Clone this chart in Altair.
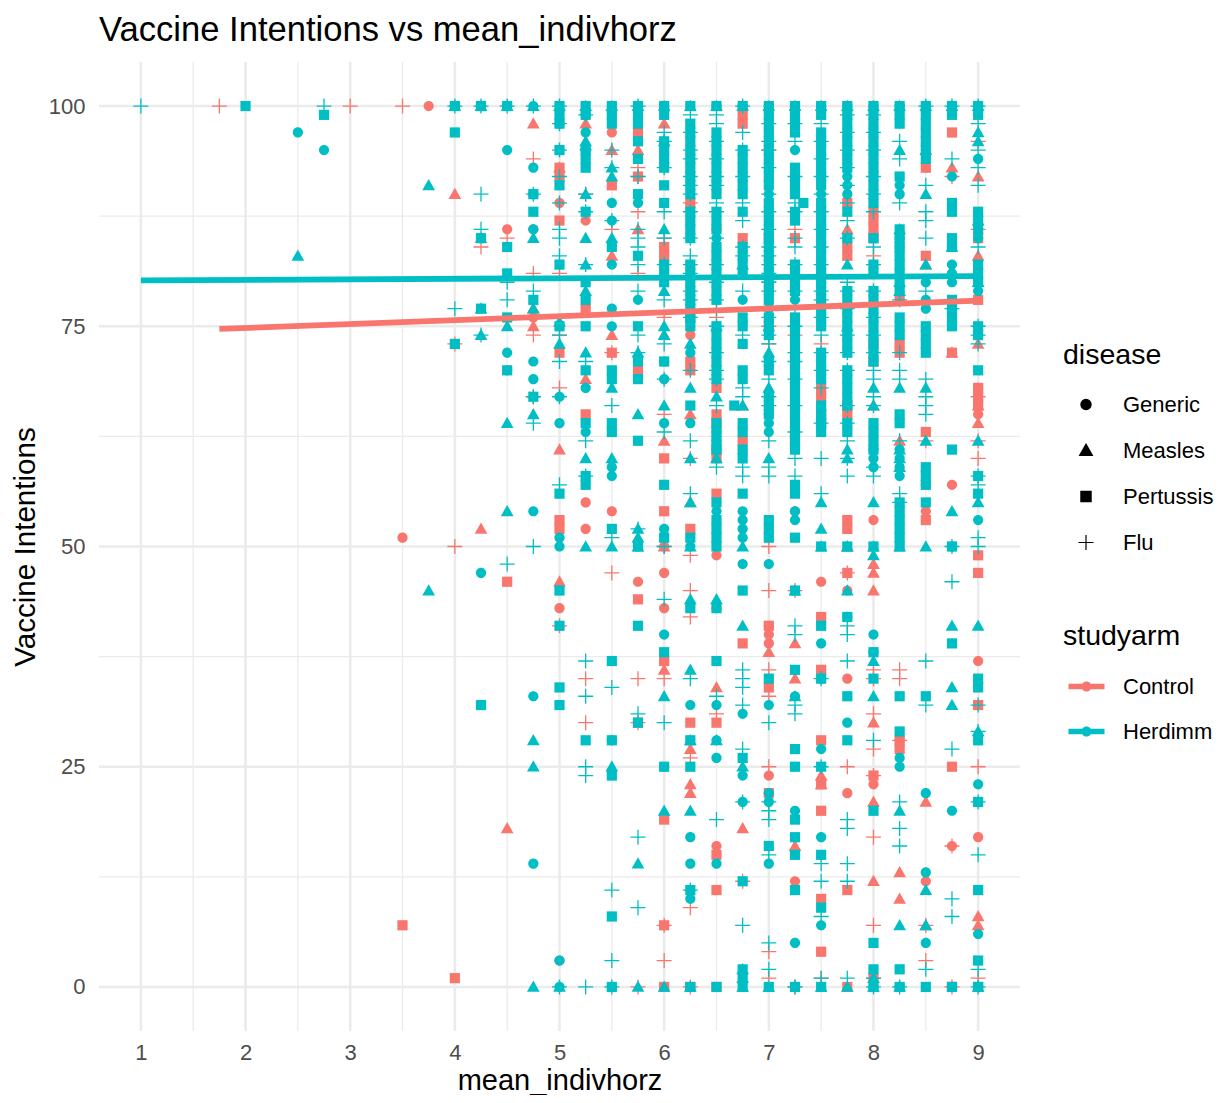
import altair as alt
import pandas as pd

TITLE = "Vaccine Intentions vs mean_indivhorz"
DISEASES = ["Generic", "Measles", "Pertussis", "Flu"]
ARMS = ["Control", "Herdimm"]
COLORS = ["#F8766D", "#00BFC4"]
CIRCLE = "M0,-0.68A0.68,0.68,0,1,1,0,0.68A0.68,0.68,0,1,1,0,-0.68Z"
TRIANGLE = "M0,-0.85L0.85,0.65L-0.85,0.65Z"
SQUARE = "M-0.68,-0.68L0.68,-0.68L0.68,0.68L-0.68,0.68Z"
PLUS = "M-1,0L1,0M0,-1L0,1"
SHAPES = [CIRCLE, TRIANGLE, SQUARE, PLUS]
POINT_SIZE = 225

C_GENERIC = {3.5:[51],3.75:[100],4.5:[86,70],4.75:[86,76],5:[89,43,3],5.25:[87,52,55],5.5:[97,54],5.75:[70,46],6:[50,47,43],
 6.25:[74],6.5:[86,49,43,16],7:[41,40,39,24,22],7.25:[54,12],7.5:[46],7.75:[45,35,22],8:[23,53],8.25:[28],8.5:[54,12,57],8.75:[50,16,0,57],9:[37,17,65,68]}
C_MEASLES = {4:[90],4.25:[85,52],4.5:[18],4.75:[98,77,75],5:[93,61,46],5.25:[98,69],5.5:[95,74,83],5.75:[95,86],6:[98,74,62,50,36],
 6.25:[65,55,27,23,22],6.5:[34],6.75:[66,18],7:[38],7.25:[39,35,16],7.5:[24,23],7.75:[86,50],8:[48,47,45,30,21,12,66],8.25:[62,13,10],8.5:[82,21,7],8.75:[72,93],9:[83,8,7,66,64,92,73]}
C_PERT = {3.5:[7],4:[1],4.5:[46],5:[93,92,87,53,52,72],5.25:[77,65],5.5:[91,72],5.75:[97,92,70,44,30],6:[84,83,60,54,37,19,7,0],
 6.25:[89,71,70,52,30,76,0],6.5:[68,65,64,61,60,56,30,15,11,0],6.75:[99,98,85,62,39],7:[85,41,34,22],7.25:[85,62],7.5:[68,67,65,64,36,42,28,23,20,10,4],
 7.75:[89,84,83,66,65,47,11,53,52,0],8:[88,87,86,85,73,71,24,1],8.25:[78,73,72,28,27],8.5:[93,83,63,53],8.75:[72,97,25,0],9:[85,68,67,66,49,47,32,78,0]}
C_FLU = {1.75:[100],3:[100],3.5:[100],4:[73,50],4.25:[84],4.5:[85],4.75:[94,81,74,67],5:[81,74,68,41],5.25:[90,35,30],5.5:[86,72,47],5.75:[93,92,88,81,35,30,0],
 6:[85,76,65,50,35,7,3],6.25:[89,60,49,45,42,26,9,0],6.5:[31,76],6.75:[12],7:[95,80,75,73,50,45,36,33,25,4,1],7.25:[86,74,45,0],7.5:[73,1],7.75:[47,25],8:[83,36,35,31,27,24,17,7,1],
 8.25:[36,35,28],8.5:[62,7,3],8.75:[92,16,0],9:[96,60,25,1,86,62,67]}

H_GENERIC = {2.5:[97],2.75:[95],4:[100],4.25:[100,85,47],4.5:[100,95,72],4.75:[100,93,90,86,71,69,54,33,14],
 5:[98,67,64,51,50,3,0],5.25:[99,97,95,68,63],5.5:[89,87,82,77,75,59,58,28,0],5.75:[89,78,50],6:[100,71,69,64,52,40,25],6.25:[72,64,50,32,17,14,10],
 6.5:[100,85,62,61,63,54,32,28,26,14],6.75:[100,78,54,53,52,51,31,24,21,48],7:[90,77,65,64,63,48,32,22,21,14,100],7.25:[95,78,54,53,74,33,20,5,0,100],
 7.5:[100,90,39,27,17,7,80,35],7.75:[100,92,91,90,42,30],8:[100,60,61,59,40,38,0],8.25:[100,91,90,85,84,26,25,61,60,59,58,0],8.5:[100,80,78,77,22,13,5],8.75:[100,92,82,81,80,50,20],9:[100,94,85,79,23,6,53,0]}
H_MEASLES = {2.5:[83],3.75:[91,45],4:[100],4.25:[100,77,74],4.5:[100,64,54,75],4.75:[100,85,77,65,28,25,0],5:[100,75.5,73,0],5.25:[100,96,95.5,90,85,82,79,72,60,50],
 5.5:[100,93,92,85,68,60,50,25],5.75:[100,72,65,52,51,50,14,0],6:[100,96,86,79,75,74,66,33,20,0],6.25:[100,73,68,60,55,50,44,36,28,20,0],6.5:[100,67,60,75,44,28],6.75:[100,82,66,50,25,2,1,0,41],
 7:[100,75,72,68,60,0],7.25:[100,33,45],7.5:[100,55,52,50,0],7.75:[100,82,75,61,60,50,45,0],8:[100,68,55,50,49,33,37,66,1,0],8.25:[100,95,86,80,79,68,60,59,61,50,20,7,0],
 8.5:[100,95,90,82,68,62,50,11,7],8.75:[100,84,54,41,34,32],9:[100,96,87,80,62,41,29,0,97,55]}
H_PERT = {2:[100],2.75:[99],4:[100,97,73],4.25:[100,85,77,32],4.5:[100,84,81,76,70],4.75:[90,88,67,78],5:[100,99,98,95,91,82,75,56,45,41,34,32],5.25:[100,99,95,94,93,88,80,78,75,70,64,58,57,28],
 5.5:[100,99,98,84,70,69,64,63,52,37,28,24,8,0],5.75:[100,99,98,96,94,90,83,75,71,69,62,50,41,30],6:[100,99,96,95,94,93,91,89,82,81,80,71,57,51,38,25],6.25:[100,98,97,96,95,94,93,92,91,90,88,87,86,85,82,81,80,79,78,77,76,75,66,51,43,28,25,11,0],
 6.5:[100,97,96,95,94,93,92,91,90,88,87,86,84,83,82,81,80,79,78,75,74,73,72,71,70,69,64,63,62,61,55,53,52,51,50,43,37,0],
 6.75:[100,95,94,93,92,91,90,88,84,83,82,81,76,75,73,70,69,64,63,61,60,56,45,26,12,2,1,0],
 7:[100,99,98,97,96,95,94,93,92,91,89,88,87,86,85,84,83,82,81,80,79,78,76,75,74,71,70,67,66,65,53,52,51,35,16,0],
 7.25:[100,99,98,97,93,92,91,90,88,87,82,81,80,79,76,75,74,73,72,71,70,69,68,67,66,65,64,63,62,61,57,56,51,45,36,27,25,19,15,11,17,0],
 7.5:[100,99,97,96,95,94,93,92,91,89,88,87,86,85,84,83,82,81,80,79,78,77,76,75,72,71,70,69,66,65,64,63,50,41,35,25,15,9,0],
 7.75:[100,99,98,97,96,95,94,93,88,85,79,78,77,76,75,74,73,72,70,69,68,67,66,64,63,42,50,33,28],
 8:[100,99,98,97,96,95,94,93,92,91,90,89,85,82,81,79,78,77,76,75,74,73,72,71,64,63,62,61,50,38,35,20,5,2,0],
 8.25:[100,99,98,92,86,85,84,83,82,81,80,79,76,75,74,65,64,55,54,53,52,51,50,33,29,2,0],
 8.5:[100,99,98,97,96,95,94,75,74,73,72,59,58,57,55,33,0],
 8.75:[100,99,89,88,85,84,78,77,76,75,61,50,39,0],9:[100,99,88,87,86,82,81,80,75,74,70,58,56,35,34,28,21,11,3,0],
 6.67:[66],7.33:[89]}
H_FLU = {1:[100],2.75:[100],4:[100,77],4.25:[100,90,86,74],4.5:[100,80,78,48],4.75:[100,90,79,67,64,50],5:[100,98,95,92,89,86,85,83,74,71,67,57,0],5.25:[99,90,88,82,71,62,58,37,33,25,24,0],
 5.5:[95,93,87,66,51,34,11,3,0],5.75:[100,92,86,85,84,82,79,74,72,52,31,17,9],6:[97,96,93,88,85,82,78,73,69,63,50,44,30],6.25:[99,97,95,94,92,91,90,88,85,83,82,81,79,78,76,70,62,56,35,11],
 6.5:[99,98,96,94,92,91,89,88,85,82,80,78,77,75,72,70,69,66,59,33,19],6.75:[100,97,95,92,89,87,84,83,79,74,68,67,59,58,36,35,34,32,27,21,7],7:[98,96,95,93,90,88,86,84,83,82,81,80,79,77,76,74,73,71,69,67,66,62,59,58,30,21,20,19,15,5,2],
 7.25:[98,96,92,89,88,85,84,82,79,77,75,72,71,69,66,63,60,58,41,40,32,31,0],7.5:[98,96,94,92,90,88,86,84,82,79,78,76,74,72,70,68,64,60,56,35,25,14,12,8,1],7.75:[99,97,95,93,91,89,87,85,80,79,77,74,72,70,64,62,66,60,58,41,40,37,19,18,14,12,1],
 8:[99,97,95,92,90,88,84,82,79,76,74,72,70,69,67,66,59,58,28,1,0],8.25:[96,94,89,78,72,70,69,56,55,62,21,18,16,0],8.5:[100,91,88,87,85,79,69,67,66,65,37,32,2],
 8.75:[100,94,50,77,46,27,10,8],9:[100,98,95,93,91,84,75,74,73,58,57,51,50,32,29,21,15,2,0]}
FIT_C = [(1.75, 74.7), (9, 77.9)]
FIT_H = [(1, 80.2), (9, 80.7)]
X_TICKS = [1, 2, 3, 4, 5, 6, 7, 8, 9]
X_MINOR = [1.5, 2.5, 3.5, 4.5, 5.5, 6.5, 7.5, 8.5]
Y_TICKS = [0, 25, 50, 75, 100]
Y_MINOR = [12.5, 37.5, 62.5, 87.5]

SERIES = [("Control", "Generic", C_GENERIC), ("Control", "Measles", C_MEASLES), ("Control", "Pertussis", C_PERT), ("Control", "Flu", C_FLU),
          ("Herdimm", "Generic", H_GENERIC), ("Herdimm", "Measles", H_MEASLES), ("Herdimm", "Pertussis", H_PERT), ("Herdimm", "Flu", H_FLU)]

FONT = "Liberation Sans"
xs = alt.Scale(domain=[0.6, 9.4], nice=False, zero=False)
ys = alt.Scale(domain=[-5, 105], nice=False, zero=False)
X = alt.X("x:Q", scale=xs, axis=alt.Axis(values=X_TICKS, title="mean_indivhorz", grid=False, domain=False, ticks=False, labelPadding=11, labelFontSize=22, labelColor="#4D4D4D", titleFontSize=29, titleFontWeight="normal", titleColor="black", titlePadding=3, format="d"))
Y = alt.Y("y:Q", scale=ys, axis=alt.Axis(values=Y_TICKS, title="Vaccine Intentions", grid=False, domain=False, ticks=False, labelPadding=14, labelFontSize=22, labelColor="#4D4D4D", titleFontSize=29.6, titleFontWeight="normal", titleColor="black", titlePadding=8, format="d"))

color_scale = alt.Scale(domain=ARMS, range=COLORS)
shape_scale = alt.Scale(domain=DISEASES, range=SHAPES)
LEG_COLOR = alt.Legend(title="studyarm", orient="none", legendX=964, legendY=560, titleFontSize=28.5, titleFontWeight="normal", titleColor="black",
                       labelFontSize=22, labelColor="black", labelOffset=18, rowPadding=15, titlePadding=17.5, symbolOffset=5,
                       symbolType="M-1,-0.15L1,-0.15L1,0.15L-1,0.15Z M0,-0.28A0.28,0.28,0,1,1,0,0.28A0.28,0.28,0,1,1,0,-0.28Z",
                       symbolSize=1300, symbolStrokeWidth=0, symbolOpacity=1)
LEG_SHAPE = alt.Legend(title="disease", orient="none", legendX=964, legendY=279, titleFontSize=28.5, titleFontWeight="normal", titleColor="black",
                       labelFontSize=22, labelColor="black", labelOffset=26, rowPadding=24, titlePadding=24, symbolOffset=12,
                       symbolSize=POINT_SIZE, symbolStrokeColor="black", symbolFillColor="black", symbolStrokeWidth=1.2, symbolOpacity=1)

layers = []
for vals, ch, w in [(Y_MINOR, "y", 1.3), (X_MINOR, "x", 1.3), (Y_TICKS, "y", 2.6), (X_TICKS, "x", 2.6)]:
    df = pd.DataFrame({ch: vals})
    layers.append(alt.Chart(df).mark_rule(color="#EBEBEB", strokeWidth=w).encode(**{ch: X if ch == "x" else Y}))

stroke_scale = alt.Stroke("studyarm:N", scale=color_scale, legend=None)
for arm, dis, table in SERIES:
    rows = [{"x": x, "y": v, "studyarm": arm, "disease": dis} for x, lst in table.items() for v in lst]
    df = pd.DataFrame(rows)
    enc = dict(x=X, y=Y,
               fill=alt.Fill("studyarm:N", scale=color_scale, legend=LEG_COLOR),
               shape=alt.Shape("disease:N", scale=shape_scale, legend=LEG_SHAPE),
               size=alt.value(POINT_SIZE))
    if dis == "Flu":
        enc["stroke"] = stroke_scale
        mark = alt.Chart(df).mark_point(filled=True, opacity=1, strokeWidth=1.3)
    else:
        mark = alt.Chart(df).mark_point(filled=True, opacity=1, strokeWidth=0)
    layers.append(mark.encode(**enc))

for arm, fit in [("Herdimm", FIT_H), ("Control", FIT_C)]:
    df = pd.DataFrame({"x": [p[0] for p in fit], "y": [p[1] for p in fit], "studyarm": [arm] * len(fit)})
    layers.append(alt.Chart(df).mark_line(strokeWidth=5.8, strokeCap="butt").encode(x=X, y=Y, stroke=alt.Stroke("studyarm:N", scale=color_scale, legend=None)))

chart = alt.layer(*layers).properties(
    width=921, height=969,
    title=alt.TitleParams(TITLE, anchor="start", frame="group", fontSize=34.6, fontWeight="normal", color="black", font=FONT, offset=12),
    autosize=alt.AutoSizeParams(type="none"),
    padding={"left": 91, "top": 54, "right": 194, "bottom": 64},
).configure_view(stroke=None).configure_axis(labelFont=FONT, titleFont=FONT).configure_legend(labelFont=FONT, titleFont=FONT)

chart.save("out.html", embed_options={"renderer": "svg", "actions": False})
